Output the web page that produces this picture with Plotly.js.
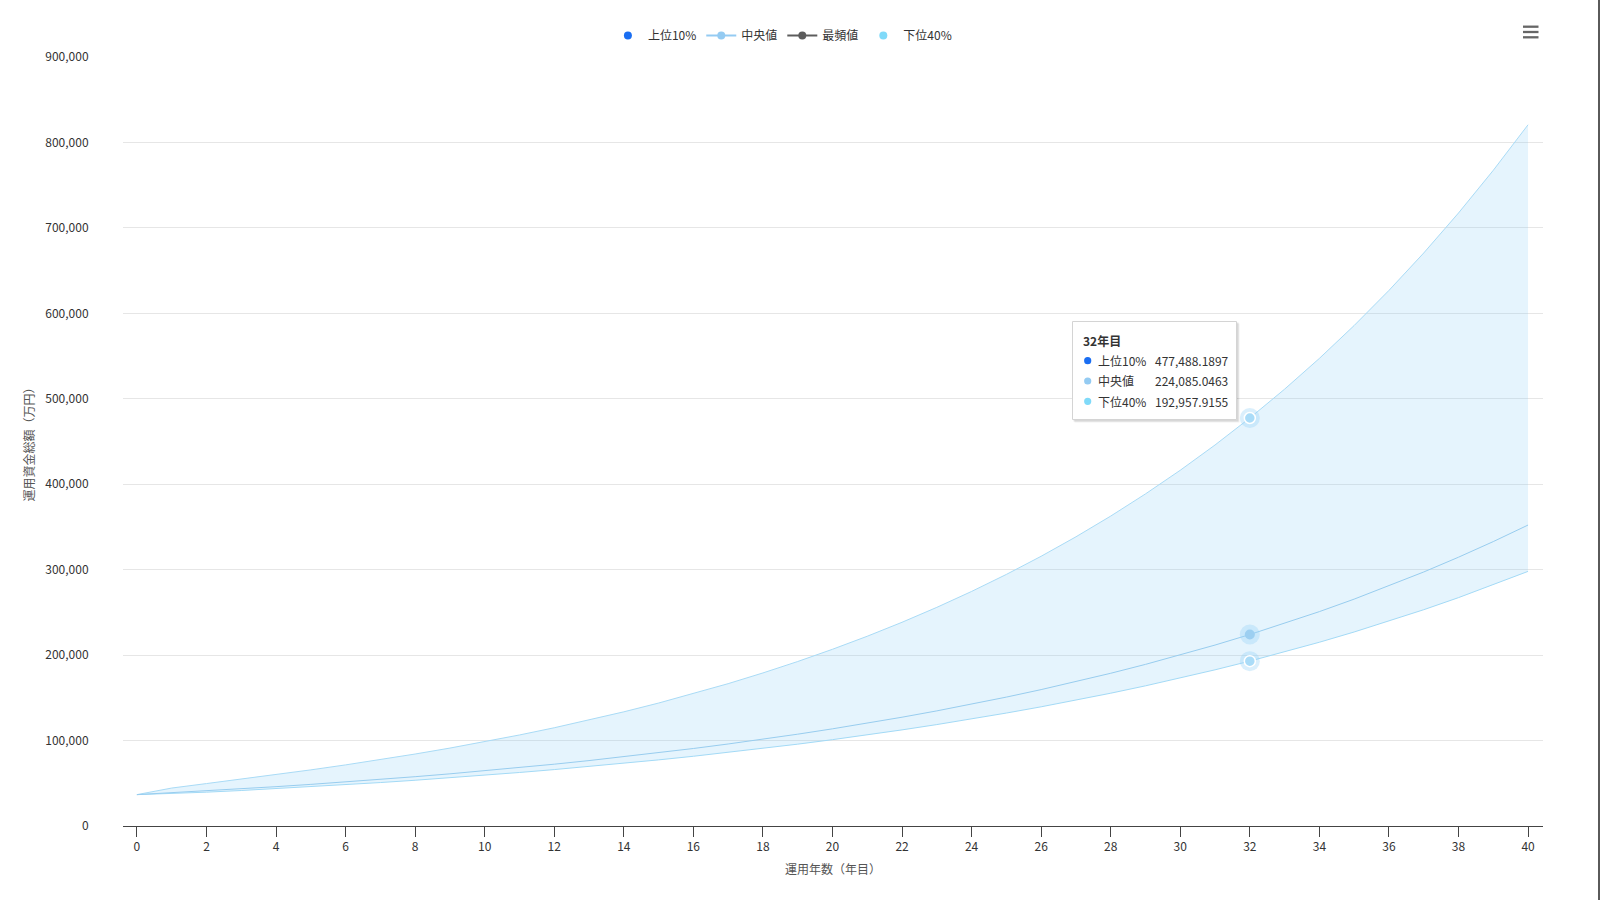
<!DOCTYPE html>
<html>
<head>
<meta charset="utf-8">
<script src="https://cdn.plot.ly/plotly-3.0.1.min.js"></script>
<style>
html,body{margin:0;padding:0;background:#fff;}
#chart{width:1600px;height:900px;}
</style>
</head>
<body>
<div id="chart"></div>
<script>
// ---- data ----
const years = [0,1,2,3,4,5,6,7,8,9,10,11,12,13,14,15,16,17,18,19,20,21,22,23,24,25,26,27,28,29,30,31,32,33,34,35,36,37,38,39,40];

const upper10 = [36710,44404,49662,54834,60141,65680,71510,77681,84236,91199,
  98622,106539,114978,123985,133610,143883,154863,166586,179118,192502,
  206813,222091,238420,255870,274515,294433,315708,338444,362721,388660,
  416347,445941,477488.1897,511250,547258,585724,626786,670613,717418,767365,820696];

const median = [36710,38845,41104,43495,46025,48702,51535,54532,57704,61060,
  64611,68369,72345,76553,81005,85716,90701,95976,101558,107465,
  113715,120329,127327,134732,142568,150860,159634,168918,178742,189138,
  200138,211778,224085.0463,237118,250909,265502,280944,297284,314574,332870,352230];

const modeValues = []; // 最頻値: no line drawn in the reference

const lower40 = [36710,37832,39595,41548,43655,45907,48303,50848,53546,56404,
  59429,62629,66014,69593,73375,77374,81599,86065,90783,95767,
  101035,106599,112478,118688,125249,132179,139501,147238,155407,164039,
  173157,182790,192957.9155,203708,215064,227060,239735,253123,267265,282211,297997];

const seriesNames = ['上位10%','中央値','最頻値','下位40%'];
const legendColors = ['#1a6ef2','#94cbf2','#5c5c5c','#80daf9'];
const yTickVals = [0,100000,200000,300000,400000,500000,600000,700000,800000,900000];
const xTickVals = [0,2,4,6,8,10,12,14,16,18,20,22,24,26,28,30,32,34,36,38,40];
const xTitle = '運用年数（年目）';
const yTitle = '運用資金総額（万円）';
const hoverYear = 32;
const tooltipTitle = hoverYear + '年目';

// ---- layout geometry ----
const W = 1600, H = 900;
const M = {l:123, r:57, t:57, b:74};
const PW = W - M.l - M.r, PH = H - M.t - M.b;
const px = x => (x - M.l) / PW;
const py = y => (H - M.b - y) / PH;

const FONT = '"Noto Sans CJK JP", "Noto Sans", sans-serif';
const lineUpper = '#a9dbf6', lineMed = '#98cdef', lineLower = '#a3daf6';

const hi = years.indexOf(hoverYear);
const fmt = v => v.toLocaleString('en-US',{minimumFractionDigits:4, maximumFractionDigits:4});

const traces = [
  {x: years, y: lower40, type:'scatter', mode:'lines', line:{color:lineLower, width:1}, showlegend:false, hoverinfo:'skip'},
  {x: years, y: upper10, type:'scatter', mode:'lines', line:{color:lineUpper, width:1}, fill:'tonexty',
   fillcolor:'rgba(124,200,245,0.2)', showlegend:false, hoverinfo:'skip'},
  {x: years, y: median, type:'scatter', mode:'lines', line:{color:lineMed, width:1}, showlegend:false, hoverinfo:'skip'},
  // hover halos and markers at 32年目
  {x:[years[hi],years[hi],years[hi]], y:[upper10[hi],median[hi],lower40[hi]], type:'scatter', mode:'markers',
   marker:{size:20, color:'rgba(150,210,245,0.35)'}, showlegend:false, hoverinfo:'skip'},
  {x:[years[hi],years[hi]], y:[upper10[hi],lower40[hi]], type:'scatter', mode:'markers',
   marker:{size:11, color:'#aadcf8', line:{color:'#ffffff', width:1.5}}, showlegend:false, hoverinfo:'skip'},
  {x:[years[hi]], y:[median[hi]], type:'scatter', mode:'markers',
   marker:{size:10, color:'#9ccff1'}, showlegend:false, hoverinfo:'skip'},
  // legend entries
  {x:[null], y:[null], name:seriesNames[0], type:'scatter', mode:'markers',
   marker:{color:legendColors[0], size:8}},
  {x:[null], y:[null], name:seriesNames[1], type:'scatter', mode:'lines+markers',
   line:{color:legendColors[1], width:2}, marker:{color:legendColors[1], size:8}},
  {x:modeValues.length?years:[null], y:modeValues.length?modeValues:[null], name:seriesNames[2], type:'scatter', mode:'lines+markers',
   line:{color:legendColors[2], width:2}, marker:{color:legendColors[2], size:8}},
  {x:[null], y:[null], name:seriesNames[3], type:'scatter', mode:'markers',
   marker:{color:legendColors[3], size:8}}
];

// tooltip
const tip = {x0:1072.5, x1:1236.5, y0:321.5, y1:419.5};
const rowsY = [360.7, 381, 401.3];
const tipColors = ['#1a6ef2','#94cbf2','#80daf9'];
const tipNames = [seriesNames[0], seriesNames[1], seriesNames[3]];
const tipVals = [upper10[hi], median[hi], lower40[hi]];

const shapes = [
  // shadow
  {type:'rect', xref:'paper', yref:'paper', x0:px(tip.x0+1), x1:px(tip.x1+2), y0:py(tip.y0+1), y1:py(tip.y1+2),
   fillcolor:'rgba(0,0,0,0.10)', line:{width:0}, layer:'above'},
  {type:'rect', xref:'paper', yref:'paper', x0:px(tip.x0+2), x1:px(tip.x1+3), y0:py(tip.y0+2), y1:py(tip.y1+3),
   fillcolor:'rgba(0,0,0,0.06)', line:{width:0}, layer:'above'},
  {type:'rect', xref:'paper', yref:'paper', x0:px(tip.x0), x1:px(tip.x1), y0:py(tip.y0), y1:py(tip.y1),
   fillcolor:'#ffffff', line:{color:'#d4d4d4', width:1}, layer:'above'},
  // menu icon
  ...[26.7, 32, 37.3].map(yy => ({type:'line', xref:'paper', yref:'paper', x0:px(1523), x1:px(1538.5), y0:py(yy), y1:py(yy),
    line:{color:'#666666', width:2.3}})),
  // right edge bar
  {type:'line', xref:'paper', yref:'paper', x0:px(1599), x1:px(1599), y0:py(0), y1:py(900), line:{color:'#5a5a5a', width:2}}
];
tipColors.forEach((c,i) => {
  const cx = 1087.7, cy = rowsY[i], r = 3.6;
  shapes.push({type:'circle', xref:'paper', yref:'paper', x0:px(cx-r), x1:px(cx+r), y0:py(cy-r), y1:py(cy+r),
    fillcolor:c, line:{width:0}, layer:'above'});
});

const annotations = [
  {xref:'paper', yref:'paper', x:px(1080.5), y:py(340), xanchor:'left', yanchor:'middle', showarrow:false,
   text:'<b>'+tooltipTitle+'</b>', font:{family:FONT, size:12, color:'#333333'}}
];
tipNames.forEach((n,i) => {
  annotations.push({xref:'paper', yref:'paper', x:px(1096), y:py(rowsY[i]), xanchor:'left', yanchor:'middle', showarrow:false,
    text:n, font:{family:FONT, size:12, color:'#333333'}});
  annotations.push({xref:'paper', yref:'paper', x:px(1152.5), y:py(rowsY[i]), xanchor:'left', yanchor:'middle', showarrow:false,
    text:fmt(tipVals[i]), font:{family:FONT, size:12, color:'#333333'}});
});

const layout = {
  width: W, height: H,
  margin: M,
  paper_bgcolor:'#ffffff', plot_bgcolor:'#ffffff',
  font:{family:FONT, size:12, color:'#333333'},
  showlegend:true,
  legend:{orientation:'h', xref:'container', yref:'container', x:0.489, xanchor:'center', y:1-35.5/900, yanchor:'middle',
    font:{family:FONT, size:12, color:'#333333'}, itemwidth:30, bgcolor:'rgba(0,0,0,0)', traceorder:'normal'},
  hovermode:false,
  xaxis:{range:[-0.4,40.43], tickvals:xTickVals, showgrid:false, zeroline:false,
    showline:true, linecolor:'#444444', linewidth:1, ticks:'outside', ticklen:10, tickcolor:'#444444', tickwidth:1,
    tickfont:{family:FONT, size:12, color:'#333333'},
    title:{text:xTitle, font:{family:FONT, size:12, color:'#555555'}, standoff:12}},
  yaxis:{range:[0,900000], tickvals:yTickVals, tickformat:',d', showgrid:true, gridcolor:'#e6e6e6', gridwidth:1,
    zeroline:false, showline:false, ticks:'outside', ticklen:31, tickcolor:'rgba(0,0,0,0)',
    tickfont:{family:FONT, size:12, color:'#333333'},
    title:{text:yTitle, font:{family:FONT, size:12, color:'#555555'}, standoff:8}},
  shapes: shapes,
  annotations: annotations
};

Plotly.newPlot('chart', traces, layout, {displayModeBar:false, staticPlot:true});
</script>
</body>
</html>
